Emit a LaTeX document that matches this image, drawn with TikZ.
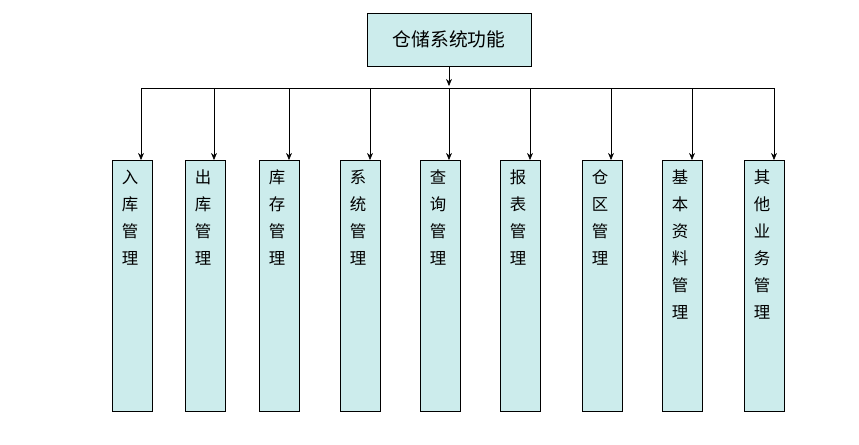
\documentclass[tikz,border=0pt]{standalone}
\usepackage{fontspec}
\setmainfont{Noto Sans CJK SC}
\usetikzlibrary{arrows.meta}
\definecolor{boxfill}{RGB}{204,236,236}
\tikzset{
  topbox/.style={draw, fill=boxfill, minimum width=164*0.03cm, minimum height=53*0.03cm, font=\fontsize{16}{18}\selectfont},
  subbox/.style={draw, fill=boxfill, minimum width=40*0.03cm, minimum height=251*0.03cm},
  subtext/.style={align=center, anchor=north, font=\fontsize{14}{23}\selectfont},
  link/.style={-{Stealth[length=6pt,width=5pt]}}
}
\begin{document}
\begin{tikzpicture}[x=0.03cm,y=-0.03cm]
\useasboundingbox (0,0) rectangle (859,445);
% root
\node[topbox] (root) at (449,39.5) {仓储系统功能};
\coordinate (bus) at (449,88);
\draw[link] (root.south) -- (449,86);
\draw (141,88) -- (774,88);
% sub functions
\foreach \i/\cx/\ax/\txt in {1/132/141/入\\库\\管\\理, 2/205/214/出\\库\\管\\理, 3/279/289/库\\存\\管\\理,
  4/360/370/系\\统\\管\\理, 5/440/449/查\\询\\管\\理, 6/520/530/报\\表\\管\\理,
  7/602/611/仓\\区\\管\\理, 8/682/692/基\\本\\资\\料\\管\\理, 9/764/774/其\\他\\业\\务\\管\\理}{
  \node[subbox] (f\i) at (\cx,285.5) {};
  \node[subtext] (t\i) at (\cx-2,166) {\txt};
  \coordinate (a\i) at (\ax,88);
  \draw[link] (a\i) -- (\ax,160);
}
\end{tikzpicture}
\end{document}
